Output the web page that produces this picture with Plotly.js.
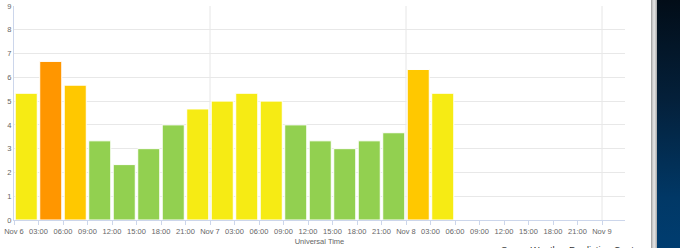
<!DOCTYPE html>
<html>
<head>
<meta charset="utf-8">
<script src="https://cdn.plot.ly/plotly-3.0.1.min.js"></script>
<style>
  html, body { margin: 0; padding: 0; background: #ffffff; overflow: hidden; }
  #wrap { display: flex; width: 680px; height: 248px; }
  #chart { width: 651px; height: 248px; }
  #sep { width: 6px; height: 248px; background: linear-gradient(to right, #9a9a9a 0%, #d8d8d8 35%, #e0e0e0 60%, #a8a8a8 100%); }
  #panel { width: 23px; height: 248px; background: linear-gradient(to bottom, #020d18 0%, #04203a 40%, #013866 80%, #003d70 100%); }
</style>
</head>
<body>
<div id="wrap"><div id="chart"></div><div id="sep"></div><div id="panel"></div></div>
<script>
// Kp index, 3-hour periods (start times, UTC)
const periodStarts = [
  "2024-11-06 00:00", "2024-11-06 03:00", "2024-11-06 06:00", "2024-11-06 09:00",
  "2024-11-06 12:00", "2024-11-06 15:00", "2024-11-06 18:00", "2024-11-06 21:00",
  "2024-11-07 00:00", "2024-11-07 03:00", "2024-11-07 06:00", "2024-11-07 09:00",
  "2024-11-07 12:00", "2024-11-07 15:00", "2024-11-07 18:00", "2024-11-07 21:00",
  "2024-11-08 00:00", "2024-11-08 03:00"
];
const kpValues = [
  5.33, 6.67, 5.67, 3.33, 2.33, 3.00, 4.00, 4.67,
  5.00, 5.33, 5.00, 4.00, 3.33, 3.00, 3.33, 3.67,
  6.33, 5.33
];
const barColors = [
  "#F6EB14", "#FF9600", "#FFC800", "#92D050", "#92D050", "#92D050", "#92D050", "#F6EB14",
  "#F6EB14", "#F6EB14", "#F6EB14", "#92D050", "#92D050", "#92D050", "#92D050", "#92D050",
  "#FFC800", "#F6EB14"
];
const tickValues = [
  "2024-11-06 00:00", "2024-11-06 03:00", "2024-11-06 06:00", "2024-11-06 09:00",
  "2024-11-06 12:00", "2024-11-06 15:00", "2024-11-06 18:00", "2024-11-06 21:00",
  "2024-11-07 00:00", "2024-11-07 03:00", "2024-11-07 06:00", "2024-11-07 09:00",
  "2024-11-07 12:00", "2024-11-07 15:00", "2024-11-07 18:00", "2024-11-07 21:00",
  "2024-11-08 00:00", "2024-11-08 03:00", "2024-11-08 06:00", "2024-11-08 09:00",
  "2024-11-08 12:00", "2024-11-08 15:00", "2024-11-08 18:00", "2024-11-08 21:00",
  "2024-11-09 00:00"
];
const tickLabels = [
  "Nov 6", "03:00", "06:00", "09:00", "12:00", "15:00", "18:00", "21:00",
  "Nov 7", "03:00", "06:00", "09:00", "12:00", "15:00", "18:00", "21:00",
  "Nov 8", "03:00", "06:00", "09:00", "12:00", "15:00", "18:00", "21:00",
  "Nov 9"
];
const dayBoundaries = ["2024-11-07 00:00", "2024-11-08 00:00", "2024-11-09 00:00"];
const xRange = ["2024-11-06 00:00", "2024-11-09 02:49"];
const yTicks = [0, 1, 2, 3, 4, 5, 6, 7, 8, 9];

const FONT = "Liberation Sans, Arial, sans-serif";

const trace = {
  type: "bar",
  x: periodStarts,
  y: kpValues,
  xperiod: 10800000,
  xperiodalignment: "middle",
  marker: { color: barColors, line: { color: "#ffffff", width: 1 } },
  hoverinfo: "skip",
  showlegend: false
};

// vertical day-boundary grid lines, placed via the x axis scale
const dayGrid = dayBoundaries.map(d => ({
  type: "line", xref: "x", yref: "paper",
  x0: d, x1: d, y0: 0, y1: 1,
  line: { color: "#e6e6e6", width: 1 },
  layer: "below"
}));

const layout = {
  width: 651,
  height: 248,
  margin: { l: 14, r: 26, t: 6, b: 28 },
  paper_bgcolor: "#ffffff",
  plot_bgcolor: "#ffffff",
  bargap: 0.1,
  font: { family: FONT, size: 7.5, color: "#666666" },
  xaxis: {
    type: "date",
    range: xRange,
    tickmode: "array",
    tickvals: tickValues,
    ticktext: tickLabels,
    showgrid: false,
    zeroline: false,
    showline: true,
    linecolor: "#ccd6eb",
    linewidth: 1,
    ticks: "outside",
    ticklen: 4,
    tickcolor: "#ccd6eb",
    tickfont: { family: FONT, size: 7.5, color: "#666666" },
    title: { text: "Universal Time", font: { family: FONT, size: 7.5, color: "#666666" }, standoff: 3 },
    fixedrange: true
  },
  yaxis: {
    range: [0, 9],
    tickmode: "array",
    tickvals: yTicks,
    showgrid: true,
    gridcolor: "#e8e8e8",
    gridwidth: 1,
    zeroline: false,
    showline: true,
    linecolor: "#ccd6eb",
    ticks: "",
    tickfont: { family: FONT, size: 7.5, color: "#666666" },
    fixedrange: true
  },
  yaxis2: {
    overlaying: "y",
    side: "right",
    range: [0, 9],
    tickmode: "array",
    tickvals: yTicks,
    showgrid: false,
    zeroline: false,
    showline: false,
    ticks: "",
    tickfont: { family: FONT, size: 7.5, color: "#666666" },
    fixedrange: true
  },
  shapes: dayGrid,
  annotations: [{
    xref: "paper", yref: "paper",
    x: 0.912, y: -0.14,
    xanchor: "center", yanchor: "middle",
    text: "Space Weather Prediction Center",
    showarrow: false,
    font: { family: FONT, size: 9.5, color: "#333333" }
  }]
};

Plotly.newPlot("chart", [trace], layout, { displayModeBar: false, staticPlot: true });
</script>
</body>
</html>
